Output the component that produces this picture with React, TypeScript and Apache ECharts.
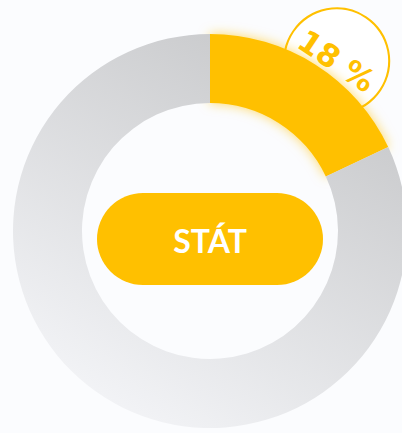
import React, { useEffect, useRef } from "react";
import * as echarts from "echarts";

const categories = ["STÁT", "Ostatní"];
const values = [18, 82];
const labelTexts = ["18 %", ""];
const centerTitle = "STÁT";

export default function App() {
  const ref = useRef<HTMLDivElement>(null);
  useEffect(() => {
    document.body.style.margin = "0";
    const chart = echarts.init(ref.current!, null, { renderer: "svg" });
    const yellow = "#FFC000";
    const labelData = categories.map((name, i) => ({
      name,
      value: values[i],
      label:
        i === 0
          ? {
              show: true,
              position: "inside",
              formatter: labelTexts[i],
              rotate: -34,
              offset: [16, 8],
              width: 103,
              height: 89,
              lineHeight: 89,
              padding: [0, 0, 14, 0],
              align: "center",
              verticalAlign: "middle",
              borderRadius: 54,
              borderWidth: 2,
              borderColor: yellow,
              backgroundColor: "#ffffff",
              color: yellow,
              fontFamily: "DejaVu Sans",
              fontWeight: "bold",
              fontSize: 31,
            }
          : { show: false },
    }));
    chart.setOption({
      animation: false,
      backgroundColor: "#fbfcfe",
      series: [
        {
          type: "pie",
          z: 1,
          center: [210, 231],
          radius: [197, 237],
          startAngle: 90,
          clockwise: true,
          silent: true,
          itemStyle: { color: "rgba(0,0,0,0)" },
          labelLine: { show: false },
          data: labelData,
        },
        {
          type: "pie",
          z: 3,
          center: [210, 231],
          radius: [128, 197],
          startAngle: 90,
          clockwise: true,
          label: { show: false },
          labelLine: { show: false },
          data: categories.map((name, i) => ({
            name,
            value: values[i],
            itemStyle:
              i === 0
                ? {
                    color: yellow,
                    shadowBlur: 12,
                    shadowColor: "rgba(255,192,0,0.6)",
                  }
                : {
                    color: new echarts.graphic.LinearGradient(0.8, 0, 0.2, 1, [
                      { offset: 0, color: "#c5c6c8" },
                      { offset: 1, color: "#f5f6f9" },
                    ]),
                  },
          })),
        },
      ],
      graphic: [
        {
          type: "group",
          z: 10,
          children: [
            {
              type: "rect",
              shape: { x: 97, y: 193, width: 226, height: 92, r: 46 },
              style: { fill: yellow },
            },
            {
              type: "text",
              x: 210,
              y: 240,
              style: {
                text: centerTitle,
                fill: "#ffffff",
                fontFamily: "Lato",
                fontWeight: "bold",
                fontSize: 32,
                align: "center",
                verticalAlign: "middle",
              },
            },
          ],
        },
      ],
    });
    return () => chart.dispose();
  }, []);
  return (
    <div
      ref={ref}
      style={{ position: "absolute", left: 0, top: 0, width: 402, height: 433 }}
    />
  );
}
